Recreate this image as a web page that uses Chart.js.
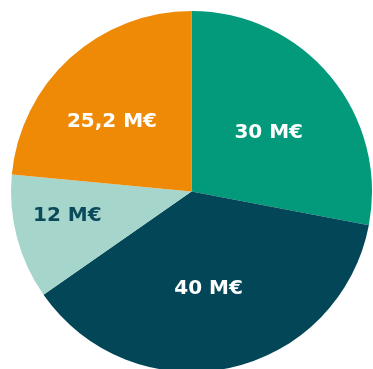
<!DOCTYPE html>
<html>
<head>
<meta charset="utf-8">
<script src="https://cdn.jsdelivr.net/npm/chart.js@4.4.1/dist/chart.umd.min.js"></script>
<style>
  html, body { margin: 0; padding: 0; background: #fff; overflow: hidden; }
  #wrap { width: 383px; height: 383px; }
</style>
</head>
<body>
<div id="wrap"><canvas id="pie" width="383" height="383"></canvas></div>
<script>
const labels = ["30 M€", "40 M€", "12 M€", "25,2 M€"];
const values = [30, 40, 12, 25.2];
const colors = ["#029a7a", "#024657", "#a6d5cc", "#ee8a06"];
const textColors = ["#ffffff", "#ffffff", "#0b4a5a", "#ffffff"];

// label placement: fraction of radius and angle nudge (degrees)
const labelPos = [
    { r: 0.54, a: 2 },
    { r: 0.54, a: 2 },
    { r: 0.70, a: 4 },
    { r: 0.59, a: -6 }
];

const sliceLabels = {
    id: "sliceLabels",
    afterDatasetsDraw(chart) {
        const ctx = chart.ctx;
        const meta = chart.getDatasetMeta(0);
        ctx.save();
        ctx.font = "bold 20px 'DejaVu Sans', sans-serif";
        ctx.textAlign = "center";
        ctx.textBaseline = "middle";
        meta.data.forEach((arc, i) => {
            const p = arc.getProps(["x", "y", "startAngle", "endAngle", "outerRadius"], true);
            const mid = (p.startAngle + p.endAngle) / 2 + labelPos[i].a * Math.PI / 180;
            const rr = p.outerRadius * labelPos[i].r;
            ctx.fillStyle = textColors[i];
            ctx.fillText(labels[i], p.x + Math.cos(mid) * rr, p.y + Math.sin(mid) * rr + 1);
        });
        ctx.restore();
    }
};

new Chart(document.getElementById("pie"), {
    type: "pie",
    data: {
        labels: labels,
        datasets: [{
            data: values,
            backgroundColor: colors,
            borderWidth: 0
        }]
    },
    options: {
        responsive: false,
        animation: false,
        layout: { padding: 11 },
        plugins: {
            legend: { display: false },
            tooltip: { enabled: false }
        }
    },
    plugins: [sliceLabels]
});
</script>
</body>
</html>
